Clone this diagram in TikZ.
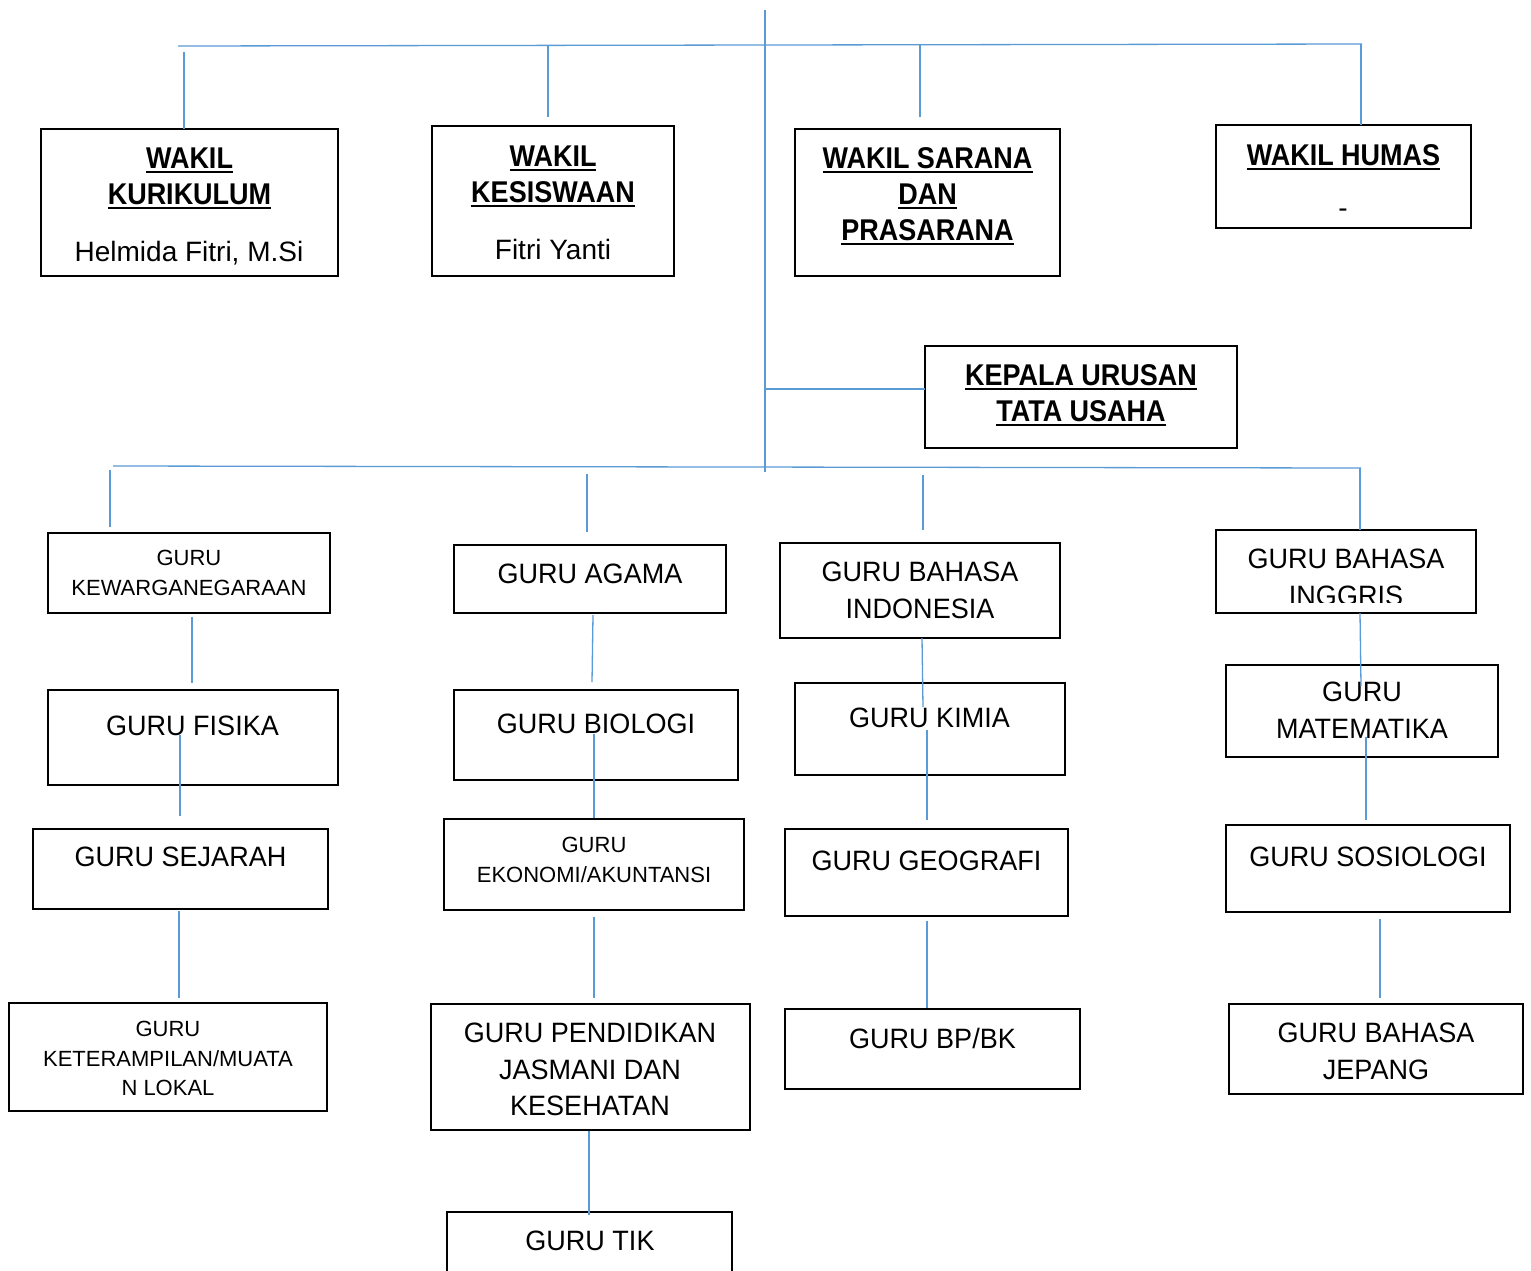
\documentclass[tikz,border=0pt]{standalone}
\usepackage{fontspec}
\setmainfont{Liberation Sans}
\newfontfamily\hfont[FakeStretch=0.9]{Liberation Sans}
\newfontfamily\tfont[FakeStretch=0.965]{Liberation Sans}
\usetikzlibrary{fit}
\definecolor{conn}{RGB}{91,155,213}
\newcommand\ulin[1]{\setbox0=\hbox{#1}\rlap{\vrule height -3pt depth 5pt width \wd0}\box0}
\tikzset{
  box/.style={draw=black, line width=2.8pt, inner sep=0pt},
  link/.style={draw=conn, line width=1.3pt},
  head/.style={font={\hfont\bfseries\fontsize{30}{36}\selectfont}, align=center, inner sep=0pt, anchor=north},
  txt/.style={font={\tfont\fontsize{28}{36.5}\selectfont}, align=center, inner sep=0pt, anchor=north},
  small/.style={font={\fontsize{22}{29.5}\selectfont}, align=center, inner sep=0pt, anchor=north},
  namet/.style={font={\fontsize{28}{36}\selectfont}, inner sep=0pt, anchor=base},
}
\begin{document}
\begin{tikzpicture}[x=1pt,y=-1pt]
\fill[white] (0,0) rectangle (1531,1270);
\useasboundingbox (0,0) rectangle (1531,1270);

% ---------- boxes ----------
\node[box, fit={(41,129) (338,276)}] (bkur) {};
\node[box, fit={(432,126) (674,276)}] (bkes) {};
\node[box, fit={(795,129) (1060,276)}] (bsar) {};
\node[box, fit={(1216,125) (1471,228)}] (bhum) {};
\node[box, fit={(925,346) (1237,448)}] (btu) {};

\node[box, fit={(48,533) (330,613)}] (bkew) {};
\node[box, fit={(48,690) (338,785)}] (bfis) {};
\node[box, fit={(33,829) (328,909)}] (bsej) {};
\node[box, fit={(9,1003) (327,1111)}] (bket) {};

\node[box, fit={(454,545) (726,613)}] (baga) {};
\node[box, fit={(454,690) (738,780)}] (bbio) {};
\node[box, fit={(444,819) (744,910)}] (beko) {};
\node[box, fit={(431,1004) (750,1130)}] (bpen) {};
\node[box, fit={(447,1212) (732,1300)}] (btik) {};

\node[box, fit={(780,543) (1060,638)}] (bind) {};
\node[box, fit={(795,683) (1065,775)}] (bkim) {};
\node[box, fit={(785,829) (1068,916)}] (bgeo) {};
\node[box, fit={(785,1009) (1080,1089)}] (bbp) {};

\node[box, fit={(1216,530) (1476,613)}] (bing) {};
\node[box, fit={(1226,665) (1498,757)}] (bmat) {};
\node[box, fit={(1226,825) (1510,912)}] (bsos) {};
\node[box, fit={(1229,1004) (1523,1094)}] (bjep) {};

% ---------- texts ----------
\node[head] (tkur) at (189.5,147.25) {\ulin{WAKIL}\\\ulin{KURIKULUM}};
\node[namet] (nkur) at (189,261) {Helmida Fitri, M.Si};
\node[head] (tkes) at (553,145.25) {\ulin{WAKIL}\\\ulin{KESISWAAN}};
\node[namet] (nkes) at (553,259) {Fitri Yanti};
\node[head] (tsar) at (927.5,147.25) {\ulin{WAKIL SARANA}\\\ulin{DAN}\\\ulin{PRASARANA}};
\node[head] (thum) at (1343.5,144.25) {\ulin{WAKIL HUMAS}};
\node[font={\fontsize{28}{36}\selectfont}, inner sep=0pt] (nhum) at (1343,213) {-};
\node[head] (ttu) at (1081,364.25) {\ulin{KEPALA URUSAN}\\\ulin{TATA USAHA}};

\node[small] (tkew) at (189,550.25) {GURU\\KEWARGANEGARAAN};
\node[txt] (tfis) at (192.5,716) {GURU FISIKA};
\node[txt] (tsej) at (180.5,847) {GURU SEJARAH};
\node[small] (tket) at (168,1021.25) {GURU\\KETERAMPILAN/MUATA\\N LOKAL};

\node[txt] (taga) at (590,564) {GURU AGAMA};
\node[txt] (tbio) at (596,714) {GURU BIOLOGI};
\node[small] (teko) at (594,837.25) {GURU\\EKONOMI/AKUNTANSI};
\node[txt] (tpen) at (590,1023) {GURU PENDIDIKAN\\JASMANI DAN\\KESEHATAN};
\node[txt] (ttik) at (590,1231) {GURU TIK};

\node[txt] (tind) at (920,562) {GURU BAHASA\\INDONESIA};
\node[txt] (tkim) at (929.5,708) {GURU KIMIA};
\node[txt] (tgeo) at (926.5,851) {GURU GEOGRAFI};
\node[txt] (tbp) at (932.5,1028) {GURU BP/BK};

\begin{scope}
\clip (1200,520) rectangle (1490,602);
\node[txt] (ting) at (1346,549) {GURU BAHASA\\INGGRIS};
\end{scope}
\node[txt] (tmat) at (1362,682) {GURU\\MATEMATIKA};
\node[txt] (tsos) at (1368,847) {GURU SOSIOLOGI};
\node[txt] (tjep) at (1376,1023) {GURU BAHASA\\JEPANG};

% ---------- connectors ----------
\coordinate (vt) at (765,10);
\coordinate (vb) at (765,472);
\coordinate (hal) at (178,46);
\coordinate (har) at (1362,44);
\coordinate (d1a) at (184,52);   \coordinate (d1b) at (184,129);
\coordinate (d2a) at (548,46);   \coordinate (d2b) at (548,117);
\coordinate (d3a) at (920,44);   \coordinate (d3b) at (920,117);
\coordinate (d4a) at (1361,44);  \coordinate (d4b) at (1361,125);
\coordinate (tua) at (765,389);  \coordinate (tub) at (925,389);
\coordinate (hbl) at (113,466);  \coordinate (hbr) at (1361,468);
\coordinate (e1a) at (110,470);  \coordinate (e1b) at (110,527);
\coordinate (e2a) at (587,474);  \coordinate (e2b) at (587,532);
\coordinate (e3a) at (923,475);  \coordinate (e3b) at (923,530);
\coordinate (e4a) at (1360,468); \coordinate (e4b) at (1360,530);

\draw[link] (vt) -- (vb);
\draw[link] (hal) -- (har);
\draw[link] (d1a) -- (d1b);
\draw[link] (d2a) -- (d2b);
\draw[link] (d3a) -- (d3b);
\draw[link] (d4a) -- (d4b);
\draw[link] (tua) -- (tub);
\draw[link] (hbl) -- (hbr);
\draw[link] (e1a) -- (e1b);
\draw[link] (e2a) -- (e2b);
\draw[link] (e3a) -- (e3b);
\draw[link] (e4a) -- (e4b);

% column 1
\coordinate (c1a) at (192,617);  \coordinate (c1b) at (192,683);
\coordinate (c1c) at (180,735);  \coordinate (c1d) at (180,816);
\coordinate (c1e) at (179,911);  \coordinate (c1f) at (179,998);
\draw[link] (c1a) -- (c1b);
\draw[link] (c1c) -- (c1d);
\draw[link] (c1e) -- (c1f);
% column 2
\coordinate (c2a) at (593,615);  \coordinate (c2b) at (592,682);
\coordinate (c2c) at (594,734);  \coordinate (c2d) at (594,818);
\coordinate (c2e) at (594,917);  \coordinate (c2f) at (594,998);
\coordinate (c2g) at (589,1131); \coordinate (c2h) at (589,1215);
\draw[link] (c2a) -- (c2b);
\draw[link] (c2c) -- (c2d);
\draw[link] (c2e) -- (c2f);
\draw[link] (c2g) -- (c2h);
% column 3
\coordinate (c3a) at (922,638);  \coordinate (c3b) at (923,707);
\coordinate (c3c) at (927,730);  \coordinate (c3d) at (927,820);
\coordinate (c3e) at (927,921);  \coordinate (c3f) at (927,1008);
\draw[link] (c3a) -- (c3b);
\draw[link] (c3c) -- (c3d);
\draw[link] (c3e) -- (c3f);
% column 4
\coordinate (c4a) at (1360,613); \coordinate (c4b) at (1361,686);
\coordinate (c4c) at (1366,737); \coordinate (c4d) at (1366,820);
\coordinate (c4e) at (1380,919); \coordinate (c4f) at (1380,998);
\draw[link] (c4a) -- (c4b);
\draw[link] (c4c) -- (c4d);
\draw[link] (c4e) -- (c4f);
\end{tikzpicture}
\end{document}
